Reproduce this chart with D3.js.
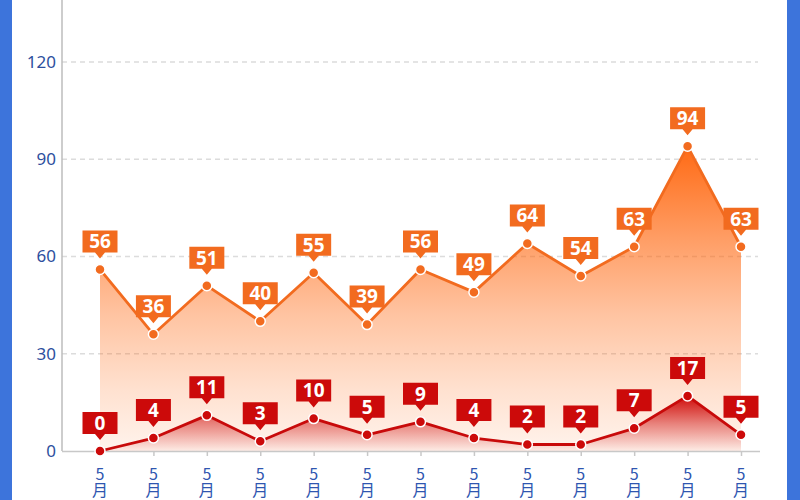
<!DOCTYPE html>
<html>
<head>
<meta charset="utf-8">
<script src="https://cdn.jsdelivr.net/npm/d3@7"></script>
<style>
html,body{margin:0;padding:0;background:#fff;}
svg{display:block;}
</style>
</head>
<body>
<svg id="chart" width="800" height="500"></svg>
<script>
const categories = ["5月","5月","5月","5月","5月","5月","5月","5月","5月","5月","5月","5月","5月"];
const seriesOrange = [56,36,51,40,55,39,56,49,64,54,63,94,63];
const seriesRed = [0,4,11,3,10,5,9,4,2,2,7,17,5];
const yTickValues = [0,30,60,90,120];

const svg = d3.select("#chart");
const W = 800, H = 500;

// side frame bars
svg.append("rect").attr("x",0).attr("y",0).attr("width",12).attr("height",H).attr("fill","#3d74db");
svg.append("rect").attr("x",787).attr("y",0).attr("width",13).attr("height",H).attr("fill","#3d74db");

const axisLeftX = 62, axisRightX = 760;
const x = d3.scalePoint().domain(d3.range(categories.length)).range([100, 741]);
const y = d3.scaleLinear().domain([0,120]).range([451, 62]);

const defs = svg.append("defs");
const maxOrange = d3.max(seriesOrange), maxRed = d3.max(seriesRed);
const gO = defs.append("linearGradient").attr("id","gOrange")
  .attr("gradientUnits","userSpaceOnUse").attr("x1",0).attr("x2",0)
  .attr("y1",y(maxOrange)).attr("y2",y(0));
[[0,1],[0.3,0.66],[0.55,0.4],[0.8,0.2],[1,0.08]].forEach(([o,a])=>{
  gO.append("stop").attr("offset",o).attr("stop-color","#ff6a14").attr("stop-opacity",a);
});
const gR = defs.append("linearGradient").attr("id","gRed")
  .attr("gradientUnits","userSpaceOnUse").attr("x1",0).attr("x2",0)
  .attr("y1",y(maxRed)).attr("y2",y(0));
[[0,0.95],[0.5,0.45],[1,0.03]].forEach(([o,a])=>{
  gR.append("stop").attr("offset",o).attr("stop-color","#cc0000").attr("stop-opacity",a);
});

// grid lines
svg.append("g").selectAll("line").data(yTickValues.filter(v=>v>0)).join("line")
  .attr("x1",axisLeftX).attr("x2",758)
  .attr("y1",d=>y(d)).attr("y2",d=>y(d))
  .attr("stroke","#dcdcdc").attr("stroke-width",1.5).attr("stroke-dasharray","5,4");

// y axis labels
const yAxis = d3.axisLeft(y).tickValues(yTickValues).tickSize(0).tickPadding(6);
const gy = svg.append("g").attr("transform",`translate(${axisLeftX},0)`).call(yAxis);
gy.select(".domain").remove();
gy.selectAll("text").attr("fill","#2d4f9e").attr("font-size",17)
  .attr("font-family","'Noto Sans','Open Sans',sans-serif");

// areas
const areaGen = d3.area().x((d,i)=>x(i)).y0(y(0)).y1(d=>y(d));
const lineGen = d3.line().x((d,i)=>x(i)).y(d=>y(d));
svg.append("path").datum(seriesOrange).attr("d",areaGen).attr("fill","url(#gOrange)");
svg.append("path").datum(seriesRed).attr("d",areaGen).attr("fill","url(#gRed)");

// axes lines
svg.append("line").attr("x1",axisLeftX).attr("x2",axisLeftX).attr("y1",0).attr("y2",y(0))
  .attr("stroke","#bdbdbd").attr("stroke-width",1.5);
const xAxis = d3.axisBottom(x).tickSize(5).tickFormat("");
const gx = svg.append("g").attr("transform",`translate(0,${y(0)})`).call(xAxis);
gx.select(".domain").attr("d",`M${axisLeftX},0.5H${axisRightX}`).attr("stroke","#c8c8c8").attr("stroke-width",1.5);
gx.selectAll(".tick line").attr("stroke","#c8c8c8").attr("stroke-width",1.5);
// x labels written vertically (one character per line)
svg.append("g").selectAll("text").data(categories).join("text")
  .attr("x",(d,i)=>x(i)).attr("y",466)
  .attr("writing-mode","vertical-rl")
  .style("text-orientation","upright")
  .attr("text-anchor","start")
  .attr("fill","#2f56b0").attr("font-size",16)
  .attr("font-family","'Noto Sans CJK SC','Noto Sans',sans-serif")
  .text(d=>d);

// lines
svg.append("path").datum(seriesOrange).attr("d",lineGen).attr("fill","none")
  .attr("stroke","#f26b1f").attr("stroke-width",2.8).attr("stroke-linejoin","round");
svg.append("path").datum(seriesRed).attr("d",lineGen).attr("fill","none")
  .attr("stroke","#c80a0a").attr("stroke-width",2.8).attr("stroke-linejoin","round");

function drawSeries(data,color){
  const g = svg.append("g");
  g.selectAll("circle").data(data).join("circle")
    .attr("cx",(d,i)=>x(i)).attr("cy",d=>y(d)).attr("r",5)
    .attr("fill",color).attr("stroke","#fff").attr("stroke-width",1.5);
  const lab = g.selectAll("g.lab").data(data).join("g").attr("class","lab")
    .attr("transform",(d,i)=>`translate(${x(i)},${y(d)})`);
  const bw = 35, bh = 22, gap = 17, tip = 11;
  lab.append("path")
    .attr("d",`M${-bw/2},${-gap-bh}H${bw/2}V${-gap}H5L0,${-tip}L-5,${-gap}H${-bw/2}Z`)
    .attr("fill",color);
  lab.append("text").attr("x",0).attr("y",-gap-bh/2).attr("dy","0.36em")
    .attr("text-anchor","middle").attr("fill","#fff").attr("font-weight","bold")
    .attr("font-size",19).attr("font-family","'Open Sans','Noto Sans',sans-serif")
    .text(d=>d);
}
drawSeries(seriesOrange,"#f26b1f");
drawSeries(seriesRed,"#cc0a0a");
</script>
</body>
</html>
